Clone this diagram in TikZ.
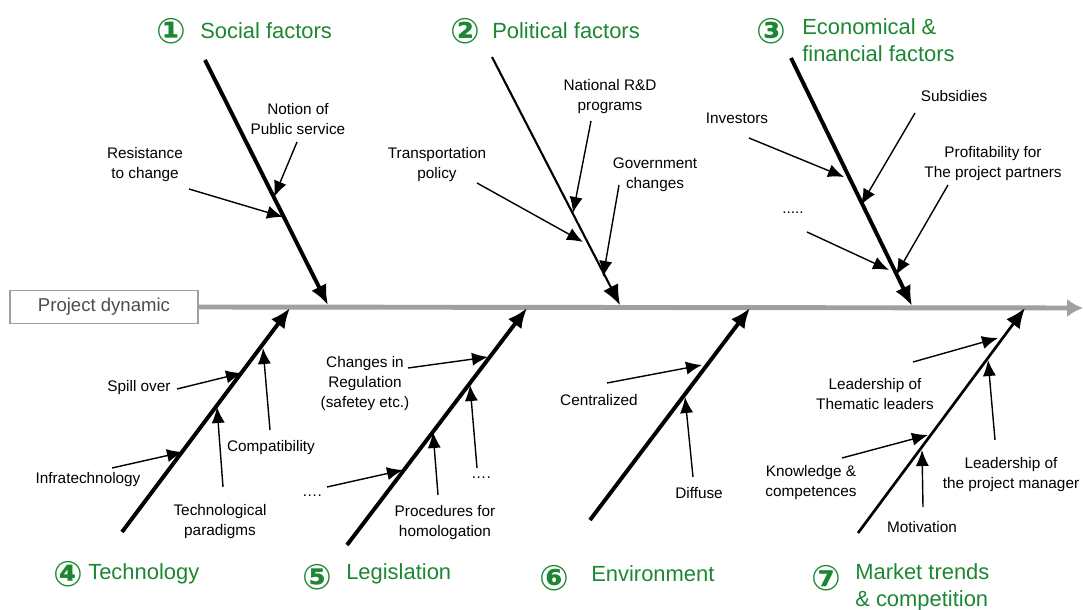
\documentclass[tikz,border=0pt]{standalone}
\usepackage{fontspec}
\setmainfont{Liberation Sans}
\newfontfamily\circfont{DejaVu Sans}
\usepackage{xcolor}
\definecolor{factgreen}{RGB}{28, 135, 50}
\definecolor{spinegray}{RGB}{160, 160, 160}
\usepackage{tikz}
\usetikzlibrary{arrows.meta, positioning}

\begin{document}
\begin{tikzpicture}[x=0.025cm, y=-0.025cm,
        factor/.style={text=factgreen, font=\fontsize{15.6}{19.2}\selectfont, align=left, anchor=west, inner sep=0pt},
        num/.style={text=factgreen, font=\circfont\bfseries\fontsize{25}{25}\selectfont, inner sep=0pt},
        cause/.style={font=\fontsize{10.9}{14.2}\selectfont, align=center, inner sep=0pt},
        bone/.style={draw=black, line width=2.8pt, -{Latex[length=5mm, width=4.2mm]}},
        line/.style={draw=black, line width=1pt, -{Latex[length=4mm, width=3.3mm]}}]
        \useasboundingbox (0,0) rectangle (1083,610);

        % Spine
        \node [draw=spinegray, line width=1pt, text=black!70, minimum width=4.7cm, minimum height=0.83cm,
               font=\fontsize{13.2}{15}\selectfont] (pd) at (104,307) {Project dynamic};
        \coordinate (spineend) at (1083,308);
        \draw [spinegray, line width=3.5pt, -{Latex[length=4mm, width=4.6mm]}] (pd.east) -- (spineend);

        % Bones
        \coordinate (b1s) at (205,60);  \coordinate (b1e) at (328,305);
        \coordinate (b2s) at (492,57);  \coordinate (b2e) at (620,305);
        \coordinate (b3s) at (791,58);  \coordinate (b3e) at (912,306);
        \coordinate (b4s) at (122,532); \coordinate (b4e) at (290,308);
        \coordinate (b5s) at (347,545); \coordinate (b5e) at (527,308);
        \coordinate (b6s) at (590,520); \coordinate (b6e) at (750,308);
        \coordinate (b7s) at (858,533); \coordinate (b7e) at (1025,308);
        \path [bone] (b1s) -- (b1e);
        \path [bone, line width=1.5pt] (b2s) -- (b2e);
        \path [bone] (b3s) -- (b3e);
        \path [bone] (b4s) -- (b4e);
        \path [bone] (b5s) -- (b5e);
        \path [bone] (b6s) -- (b6e);
        \path [bone, line width=1.9pt] (b7s) -- (b7e);

        % Factor titles
        \node [num] (n1) at (171,31) {①};
        \node [factor] (t1) at (200,31) {Social factors};
        \node [num] (n2) at (465,31) {②};
        \node [factor] (t2) at (492,31) {Political factors};
        \node [num] (n3) at (771,31) {③};
        \node [factor] (t3) at (802,40) {Economical \&\\financial factors};
        \node [num] (n4) at (68,574) {④};
        \node [factor] (t4) at (88,574) {Technology};
        \node [num] (n5) at (317,577) {⑤};
        \node [factor] (t5) at (346,574) {Legislation};
        \node [num] (n6) at (554,578) {⑥};
        \node [factor] (t6) at (591,574) {Environment};
        \node [num] (n7) at (826,578) {⑦};
        \node [factor] (t7) at (855,587) {Market trends\\\& competition};

        % Social factors
        \node [cause] (notion) at (298,119) {Notion of\\Public service};
        \node [cause] (resist) at (145,165) {Resistance\\to change};
        \coordinate (notionA) at (297,142); \coordinate (notionB) at (274,197);
        \coordinate (resistA) at (189,189); \coordinate (resistB) at (283,217);
        \path [line] (notionA) -- (notionB);
        \path [line] (resistA) -- (resistB);

        % Political factors
        \node [cause] (natrd) at (610,97) {National R\&D\\programs};
        \node [cause] (govch) at (655,175) {Government\\changes};
        \node [cause] (transp) at (437,165) {Transportation\\policy};
        \coordinate (natrdA) at (591,121); \coordinate (natrdB) at (573,213);
        \coordinate (govchA) at (619,185); \coordinate (govchB) at (603,277);
        \coordinate (transpA) at (477,183); \coordinate (transpB) at (583,242);
        \path [line] (natrdA) -- (natrdB);
        \path [line] (govchA) -- (govchB);
        \path [line] (transpA) -- (transpB);

        % Economical & financial factors
        \node [cause] (invest) at (737,118) {Investors};
        \node [cause] (subsid) at (954,96) {Subsidies};
        \node [cause] (profit) at (993,164) {Profitability for\\The project partners};
        \node [cause] (dots3) at (793,213) {.....};
        \coordinate (investA) at (749,138); \coordinate (investB) at (844,177);
        \coordinate (subsidA) at (915,113); \coordinate (subsidB) at (861,205);
        \coordinate (profitA) at (948,185); \coordinate (profitB) at (896,275);
        \coordinate (dots3A) at (807,232); \coordinate (dots3B) at (889,270);
        \path [line] (investA) -- (investB);
        \path [line] (subsidA) -- (subsidB);
        \path [line] (profitA) -- (profitB);
        \path [line] (dots3A) -- (dots3B);

        % Technology
        \node [cause] (spill) at (139,388) {Spill over};
        \node [cause] (infra) at (88,480) {Infratechnology};
        \node [cause] (techpar) at (220,522) {Technological\\paradigms};
        \node [cause] (compat) at (271,448) {Compatibility};
        \coordinate (spillA) at (177,389); \coordinate (spillB) at (242,373);
        \coordinate (infraA) at (112,468); \coordinate (infraB) at (183,452);
        \coordinate (techparA) at (223,487); \coordinate (techparB) at (217,407);
        \coordinate (compatA) at (270,430); \coordinate (compatB) at (263,348);
        \path [line] (spillA) -- (spillB);
        \path [line] (infraA) -- (infraB);
        \path [line] (techparA) -- (techparB);
        \path [line] (compatA) -- (compatB);

        % Legislation
        \node [cause] (regul) at (365,384) {Changes in\\Regulation\\(safetey etc.)};
        \node [cause] (dots5a) at (312,496) {….};
        \node [cause] (proced) at (445,523) {Procedures for\\homologation};
        \node [cause] (dots5b) at (481,478) {….};
        \coordinate (regulA) at (408,368); \coordinate (regulB) at (488,357);
        \coordinate (dots5aA) at (327,487); \coordinate (dots5aB) at (403,470);
        \coordinate (procedA) at (438,495); \coordinate (procedB) at (433,432);
        \coordinate (dots5bA) at (477,468); \coordinate (dots5bB) at (470,385);
        \path [line] (regulA) -- (regulB);
        \path [line] (dots5aA) -- (dots5aB);
        \path [line] (procedA) -- (procedB);
        \path [line] (dots5bA) -- (dots5bB);

        % Environment
        \node [cause] (central) at (599,400) {Centralized};
        \node [cause] (diffuse) at (699,493) {Diffuse};
        \coordinate (centralA) at (607,383); \coordinate (centralB) at (702,365);
        \coordinate (diffuseA) at (693,477); \coordinate (diffuseB) at (685,397);
        \path [line] (centralA) -- (centralB);
        \path [line] (diffuseA) -- (diffuseB);

        % Market trends & competition
        \node [cause] (thematic) at (875,394) {Leadership of\\Thematic leaders};
        \node [cause] (knowl) at (811,483) {Knowledge \&\\competences};
        \node [cause] (motiv) at (922,527) {Motivation};
        \node [cause] (projman) at (1011,475) {Leadership of\\the project manager};
        \coordinate (thematicA) at (913,362); \coordinate (thematicB) at (998,338);
        \coordinate (knowlA) at (842,458); \coordinate (knowlB) at (928,435);
        \coordinate (motivA) at (923,507); \coordinate (motivB) at (922,450);
        \coordinate (projmanA) at (995,440); \coordinate (projmanB) at (988,360);
        \path [line] (thematicA) -- (thematicB);
        \path [line] (knowlA) -- (knowlB);
        \path [line] (motivA) -- (motivB);
        \path [line] (projmanA) -- (projmanB);
    \end{tikzpicture}
\end{document}
